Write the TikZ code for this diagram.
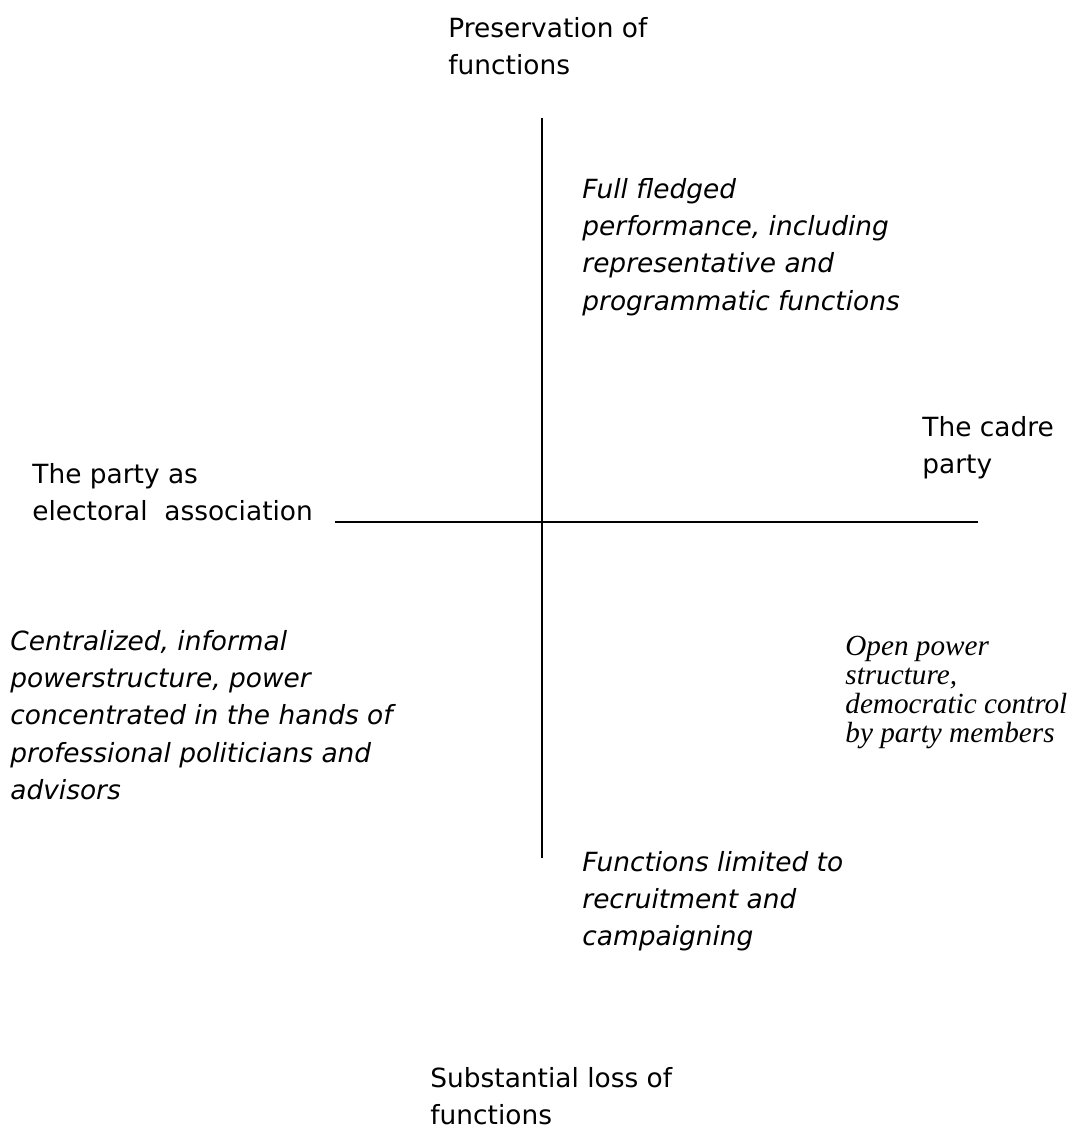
\documentclass[tikz,border=0pt]{standalone}
\usepackage{fontspec}
\setmainfont{DejaVu Sans}
\newfontfamily\notefont{Liberation Serif}
\begin{document}
\lineskiplimit=-100pt
\begin{tikzpicture}[x=0.5pt,y=-0.5pt,
  axis/.style={line width=0.9pt},
  label/.style={anchor=north west,inner sep=0pt,align=left,
    font=\fontsize{13.2}{18.6}\selectfont},
  quad/.style={label,font=\fontsize{13.2}{18.6}\selectfont\itshape},
  note/.style={anchor=north west,inner sep=0pt,align=left,
    font=\notefont\fontsize{14.6}{14.4}\selectfont\itshape}]
  \useasboundingbox (0,0) rectangle (1082,1131);
  % axes
  \coordinate (top) at (542,118);
  \coordinate (bottom) at (542,858);
  \coordinate (left) at (335,522);
  \coordinate (right) at (978,522);
  \draw[axis] (top) -- (bottom);
  \draw[axis] (left) -- (right);
  % axis ends
  \node[label] (pres) at (448,17) {Preservation of\\functions};
  \node[label] (loss) at (430,1067) {Substantial loss of\\functions};
  \node[label] (elect) at (32,463) {The party as\\electoral\ \ association};
  \node[label] (cadre) at (922,416) {The cadre\\party};
  % quadrant descriptions
  \node[quad] (full) at (582,178) {Full fledged\\performance, including\\representative and\\programmatic functions};
  \node[quad] (central) at (10,630) {Centralized, informal\\powerstructure, power\\concentrated in the hands of\\professional politicians and\\advisors};
  \node[note] (open) at (845,636) {Open power\\structure,\\democratic control\\by party members};
  \node[quad] (limited) at (582,851) {Functions limited to\\recruitment and\\campaigning};
\end{tikzpicture}
\end{document}
